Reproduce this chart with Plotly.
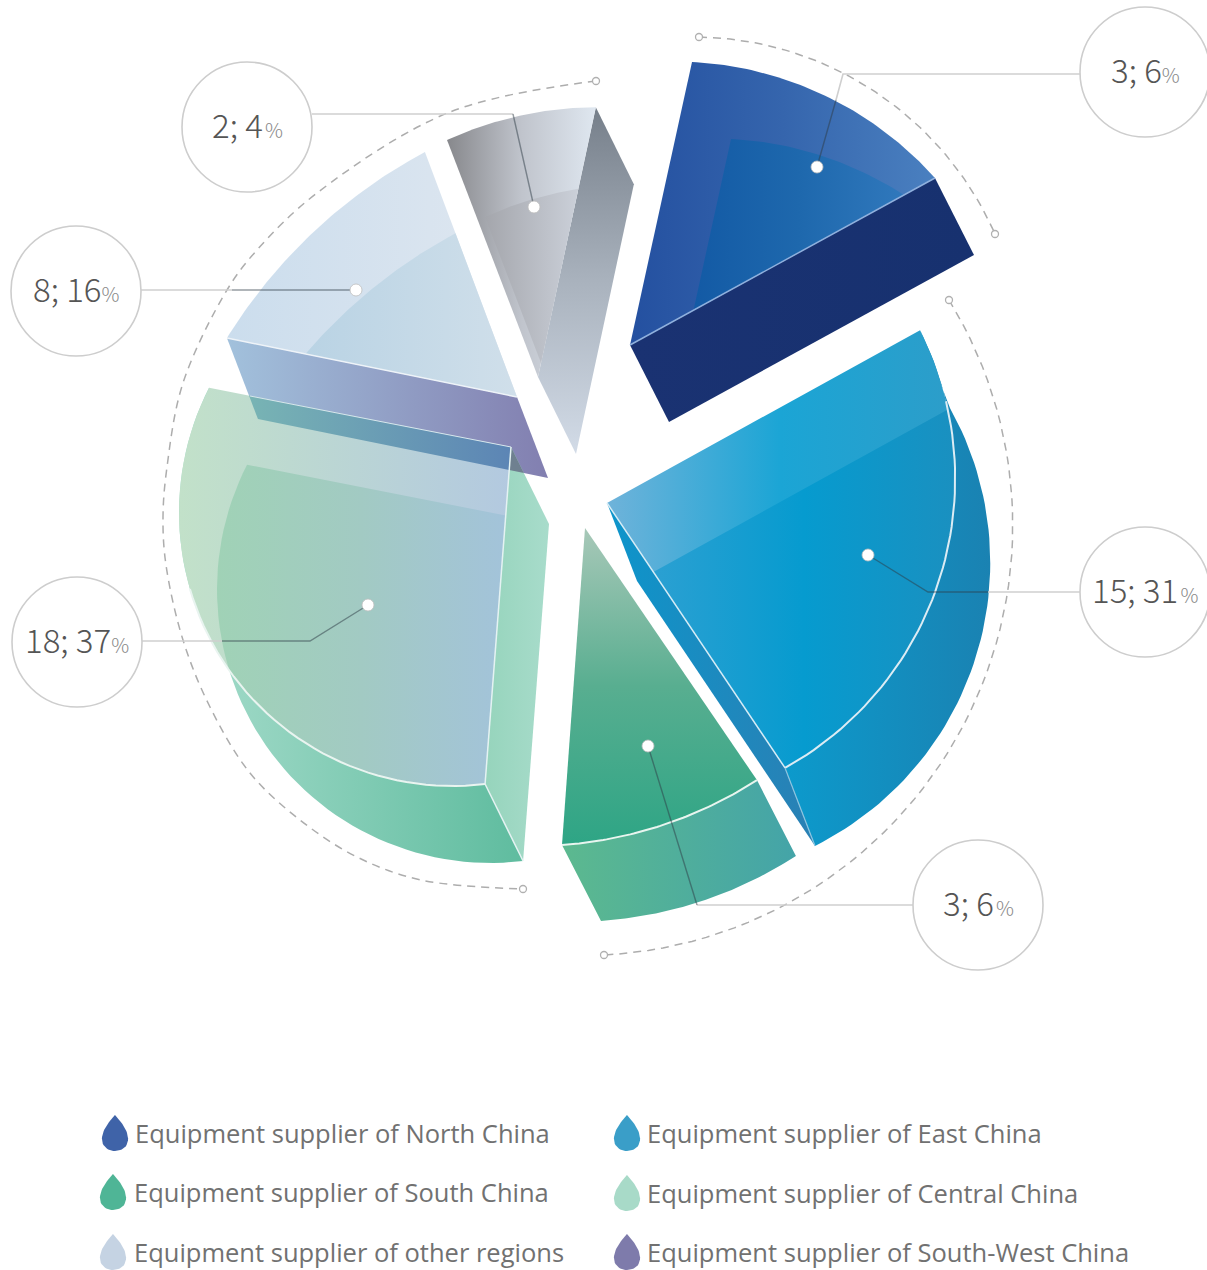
import math
import plotly.graph_objects as go

# ---------- data ----------
slice_names = ["North China", "East China", "South China", "Central China", "Other regions", "South-West China"]
slice_counts = [3, 15, 3, 18, 8, 2]
slice_percents = [6, 31, 6, 37, 16, 4]
legend_labels = ["Equipment supplier of North China", "Equipment supplier of East China",
                 "Equipment supplier of South China", "Equipment supplier of Central China",
                 "Equipment supplier of other regions", "Equipment supplier of South-West China"]

# ---------- drawing settings (hand-drawn infographic geometry, pixel space) ----------
W, H = 1207, 1270
WEDGE = {  # apex, start/end bearing (deg clockwise from up), radii at both ends, arc bulge, extrusion
    "north": dict(apex=(630, 345), a=(12.36, 61.3), r=(289.7, 347.7), sag=27, depth=(39, 77)),
    "east": dict(apex=(607, 503), a=(61.1, 146.1), r=(357.6, 319.2), sag=92, depth=(30, 78)),
    "south": dict(apex=(585, 528), a=(145.7, 184.15), r=(305.1, 317.8), sag=13, depth=(39, 76)),
    "central": dict(apex=(511, 447), a=(184.4, 281.1), r=(338, 307.7), sag=145, depth=(38, 77)),
    "other": dict(apex=(517, 397), a=(281.5, 339.4), r=(296, 261.7), sag=18, depth=(31, 81)),
    "grey": dict(apex=(538, 377), a=(339, 372.1), r=(253.9, 276), sag=8, depth=(38, 77)),
}
CALLOUTS = [  # circle centre, dot, leader bend, end of the dark part of the leader, gap before %
    dict(c=(1145, 72), dot=(817, 167), bend=(843, 74), dark=(836, 100), side=-1, gap=False),
    dict(c=(1145, 592), dot=(868, 555), bend=(928, 592), dark=(988, 592), side=-1, gap=True),
    dict(c=(978, 905), dot=(648, 746), bend=(697, 905), dark=(697, 905), side=-1, gap=True),
    dict(c=(77, 642), dot=(368, 605), bend=(310, 641), dark=(222, 641), side=1, gap=False),
    dict(c=(76, 291), dot=(356, 290), bend=(300, 290), dark=(232, 290), side=1, gap=False),
    dict(c=(247, 127), dot=(534, 207), bend=(513, 114), dark=(513, 114), side=1, gap=True),
]
CIRCLE_R = 65
GUIDE_ARCS = [((699, 37), (995, 234), 52, (700, 300)), ((949, 300), (604, 955), 211, (500, 500))]
GUIDE_LEFT = [(596, 81), (450, 112), (317, 193), (257, 250), (227, 290), (183, 383), (167, 467), (163, 517),
              (166, 565), (183, 640), (210, 707), (250, 773), (300, 820), (357, 857), (421, 880), (523, 889)]
LEGEND_POS = [(115, 1133, 133, 1133), (627, 1133, 645, 1133), (113, 1192, 132, 1192),
              (627, 1193, 645, 1193), (113, 1252, 132, 1252), (627, 1252, 645, 1252)]
LEGEND_COLORS = ["#3f63a8", "#3a9ec8", "#4fb596", "#a8dac8", "#c5d3e3", "#7e7bab"]
FONT_NUM = "Noto Sans CJK JP"
FONT_TXT = "Open Sans"


# ---------- geometry helpers ----------
def polar(apex, a, r):
    t = math.radians(a)
    return (apex[0] + r * math.sin(t), apex[1] - r * math.cos(t))


def arc(p0, p1, sag, ref, n=60):
    """Circular arc p0->p1 bulging away from ref by sag."""
    dx, dy = p1[0] - p0[0], p1[1] - p0[1]
    c = math.hypot(dx, dy)
    mx, my = (p0[0] + p1[0]) / 2, (p0[1] + p1[1]) / 2
    nx, ny = -dy / c, dx / c
    if nx * (mx - ref[0]) + ny * (my - ref[1]) < 0:
        nx, ny = -nx, -ny
    R = (c * c / 4 + sag * sag) / (2 * sag)
    cx, cy = mx - nx * (R - sag), my - ny * (R - sag)
    a0 = math.atan2(p0[1] - cy, p0[0] - cx)
    a1 = math.atan2(p1[1] - cy, p1[0] - cx)
    d = (a1 - a0 + math.pi) % (2 * math.pi) - math.pi
    return [(cx + R * math.cos(a0 + d * i / n), cy + R * math.sin(a0 + d * i / n)) for i in range(n + 1)]


def shift(pts, d):
    return [(x + d[0], y + d[1]) for x, y in pts]


def wedge_parts(spec):
    p0 = polar(spec["apex"], spec["a"][0], spec["r"][0])
    p1 = polar(spec["apex"], spec["a"][1], spec["r"][1])
    return spec["apex"], arc(p0, p1, spec["sag"], spec["apex"])


def clip(subject, clipper):
    area = sum(clipper[i][0] * clipper[(i + 1) % len(clipper)][1] - clipper[(i + 1) % len(clipper)][0] * clipper[i][1]
               for i in range(len(clipper)))
    sign = 1 if area > 0 else -1
    out = list(subject)
    for i in range(len(clipper)):
        a, b = clipper[i], clipper[(i + 1) % len(clipper)]
        if math.hypot(a[0] - b[0], a[1] - b[1]) < 1e-9:
            continue
        inside = lambda p: sign * ((b[0] - a[0]) * (p[1] - a[1]) - (b[1] - a[1]) * (p[0] - a[0])) >= 0
        cur, out = out, []
        for j in range(len(cur)):
            p, q = cur[j], cur[(j + 1) % len(cur)]
            ip, iq = inside(p), inside(q)
            if ip:
                out.append(p)
            if ip != iq:
                d1 = (b[0] - a[0]) * (p[1] - a[1]) - (b[1] - a[1]) * (p[0] - a[0])
                d2 = (b[0] - a[0]) * (q[1] - a[1]) - (b[1] - a[1]) * (q[0] - a[0])
                t = d1 / (d1 - d2)
                out.append((p[0] + t * (q[0] - p[0]), p[1] + t * (q[1] - p[1])))
        if not out:
            return []
    return out


fig = go.Figure()


def scale(colors):
    n = len(colors) - 1
    return [[i / n, c] for i, c in enumerate(colors)]


def fill(pts, colors, kind="horizontal"):
    if not pts:
        return
    xs = [p[0] for p in pts] + [pts[0][0]]
    ys = [p[1] for p in pts] + [pts[0][1]]
    fig.add_trace(go.Scatter(x=xs, y=ys, mode="lines", fill="toself", line=dict(width=0),
                             fillgradient=dict(type=kind, colorscale=scale(colors)),
                             hoverinfo="skip", showlegend=False))


def stroke(pts, color, width=1.5, dash=None, shape="linear"):
    fig.add_trace(go.Scatter(x=[p[0] for p in pts], y=[p[1] for p in pts], mode="lines",
                             line=dict(color=color, width=width, dash=dash, shape=shape),
                             hoverinfo="skip", showlegend=False))


def face(name):
    s = WEDGE[name]
    apex, a = wedge_parts(s)
    return apex, a, [apex] + a, s["depth"]


def quad(p, q, d):
    return [p, q, (q[0] + d[0], q[1] + d[1]), (p[0] + d[0], p[1] + d[1])]


def arc_band(a, d):
    return a + shift(a, d)[::-1]


# grey slice. Vertical gradients run bottom-to-top because the y axis is reversed.
apex, a, top, d = face("grey")
fill(quad(a[-1], apex, d), ["#d2dbe7", "#a9b2bd", "#767f8a"], "vertical")
fill(top, ["#87888c", "#c0c4cc", "#dfe7f0"])
fill(clip(shift(top, d), top), ["#a4a6ac", "#cbd0d9"])

# north
apex, a, top, d = face("north")
fill(quad(apex, a[-1], d), ["#1a3272", "#17316f"])
fill(top, ["#2450a0", "#3565ad", "#4a80c0"])
fill(clip(shift(top, d), top), ["#135aa5", "#1e68ad", "#3078bc"])
stroke([apex, a[-1]], "#8fb0dd", 1.5)

# east
apex, a, top, d = face("east")
outer = arc((a[0][0] + d[0], a[0][1] + d[1]), (a[-1][0] + d[0], a[-1][1] + d[1]), 98, (apex[0] + d[0], apex[1] + d[1]))
fill(a + outer[::-1], ["#0c9acc", "#1a82b2"])
fill(quad(apex, a[-1], d), ["#0d95cb", "#2a80b4"])
fill(top, ["#6fb3da", "#1ba5d5", "#2d9dc9"])
fill(clip(shift(top, d), top), ["#2ba0d2", "#069bcf", "#1a90c0"])
stroke([apex, a[-1]], "#d6ecf6", 1.5)
stroke(a[9:], "#dcecf4", 2)
stroke([a[-1], (a[-1][0] + d[0], a[-1][1] + d[1])], "#8cc4e0", 1.2)

# south
apex, a, top, d = face("south")
fill(arc_band(a, d), ["#5cb98f", "#44a4a8"])
fill(top, ["#2ea585", "#58ae90", "#a8c8b8"], "vertical")
stroke(a, "#e8f5ef", 2)

# other regions (below the central face)
apex_o, a_o, top_o, d_o = face("other")
side_o = quad(a_o[0], apex_o, d_o)
fill(side_o, ["#a2c1dc", "#827fb0"])
fill(top_o, ["#cbdded", "#dfe7f0"])
fill(clip(shift(top_o, d_o), top_o), ["#b9d3e4", "#d0dfea"])
stroke([a_o[0], apex_o], "#eef3f8", 1.5)

# central
apex, a, top, d = face("central")
fill(arc_band(a, d), ["#a6dccb", "#5fbc9f"])
side_c = quad(apex, a[0], d)
fill(side_c, ["#96d4bc", "#a8dccb"])
fill(top, ["#c2e1c9", "#b3c9e0"])
fill(clip(shift(top, d), top), ["#a0d2b6", "#a2cac3", "#a3c3da"])
fill(clip(side_o, top), ["#78b4b4", "#5c85b5"])
fill(clip(side_o, side_c), ["#6f8090", "#6f8090"])
stroke(a[:40], "#e9f4f0", 2)
stroke([apex, a[0]], "#e4f2f2", 1.5)
stroke([a[0], (a[0][0] + d[0], a[0][1] + d[1])], "#e4f2f2", 1.5)
stroke([(a_o[0][0] + d_o[0] - 8, a_o[0][1] + d_o[1] - 23), apex], "#d7e6ec", 1)

# dashed guides
guides = [(arc(p0, p1, s, ref), "linear") for p0, p1, s, ref in GUIDE_ARCS] + [(GUIDE_LEFT, "spline")]
for g, shp in guides:
    stroke(g, "#adadad", 1.5, "8px,6px", shp)
    fig.add_trace(go.Scatter(x=[g[0][0], g[-1][0]], y=[g[0][1], g[-1][1]], mode="markers",
                             marker=dict(size=7, color="white", line=dict(color="#b0b0b0", width=1.3)),
                             hoverinfo="skip", showlegend=False))

# callouts
for i, c in enumerate(CALLOUTS):
    end = (c["c"][0] + c["side"] * CIRCLE_R, c["bend"][1])
    light = [c["dark"], c["bend"], end] if i == 0 else [c["dark"], end]
    stroke(light, "#cfcfcf", 1.6)
    pts = [c["dot"], c["dark"]] if i == 0 else [c["dot"], c["bend"], c["dark"]]
    stroke(pts, "rgba(45,60,70,0.5)", 1.4)
    fig.add_trace(go.Scatter(x=[c["dot"][0]], y=[c["dot"][1]], mode="markers",
                             marker=dict(size=12, color="white", line=dict(color="rgba(190,190,190,0.8)", width=1)),
                             hoverinfo="skip", showlegend=False))
    fig.add_shape(type="circle", xref="x", yref="y", x0=c["c"][0] - CIRCLE_R, x1=c["c"][0] + CIRCLE_R,
                  y0=c["c"][1] - CIRCLE_R, y1=c["c"][1] + CIRCLE_R,
                  line=dict(color="#cdcdcd", width=1.6), fillcolor="white")
    gap = '<span style="font-size:10px">\u00a0</span>' if c["gap"] else ""
    fig.add_annotation(x=c["c"][0], y=c["c"][1] - 3, xref="x", yref="y", showarrow=False,
                       text=f'{slice_counts[i]}; {slice_percents[i]}{gap}<span style="font-size:20px;color:#8a8a8a">%</span>',
                       font=dict(family=FONT_NUM, size=33, color="#555555", weight=300))

# legend
for label, col, (dx, dy, tx, ty) in zip(legend_labels, LEGEND_COLORS, LEGEND_POS):
    drop = []
    for k in range(60):
        t = 2 * math.pi * k / 60
        drop.append((dx + 17 * math.sin(t) * math.sin(t / 2), dy - 18 * math.cos(t)))
    fig.add_trace(go.Scatter(x=[p[0] for p in drop], y=[p[1] for p in drop], mode="lines", fill="toself",
                             fillcolor=col, line=dict(width=0), hoverinfo="skip", showlegend=False))
    fig.add_annotation(x=tx, y=ty, xref="x", yref="y", xanchor="left", showarrow=False, text=label,
                       font=dict(family=FONT_TXT, size=25.5, color="#717171", weight=400))

fig.update_layout(width=W, height=H, margin=dict(l=0, r=0, t=0, b=0), paper_bgcolor="white", plot_bgcolor="white",
                  xaxis=dict(range=[0, W], visible=False, fixedrange=True),
                  yaxis=dict(range=[H, 0], visible=False, fixedrange=True),
                  showlegend=False)
fig.write_html("out.html", config={"displayModeBar": False},
               post_script="document.body.style.margin='0';document.documentElement.style.overflow='hidden';")
